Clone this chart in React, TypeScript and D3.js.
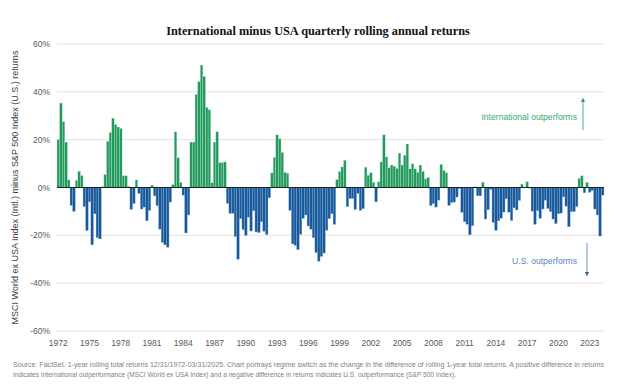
import React from 'react';
import * as d3 from 'd3';

/* ───── data: intl minus US rolling 1y return, quarterly 1972Q4 → 2025Q1 ───── */
const diffs = [
  20, 35.3, 27.5, 19, 3.2, -7.5, -10, 3, 6.8, 5,
  -8, -18, -6, -24, -11, -21, -21.5, 0.4, 5.4, 19.3,
  23, 29, 26.4, 25.3, 24.7, 4.9, 4.9, 0.5, -9.2, -6.7,
  3.2, -2.5, -9, -8.2, -13.9, -9.6, 1, -3.5, -7.6, -17.4,
  -23, -24, -25, -6.1, 1.2, 23.3, 12.5, 2.2, -3.2, -19,
  -11.5, 19, 19, 39, 44.2, 51.2, 46.5, 33.5, 32.5, 2,
  19, 23.3, 10.4, 10.4, 10.7, -6.7, -10.8, -10.8, -20.5, -30,
  -13, -17.6, -20, -12.4, -18.2, -9.7, -18.6, -18.9, -14.3, -18.3,
  -19.7, -4.3, 6.1, 12.6, 22, 20.4, 14.7, 6.4, 6, -9.6,
  -23.6, -24.2, -26, -19.6, -12.9, -11.5, -16.1, -17.4, -21, -27.2,
  -30.8, -28.8, -27.4, -17.9, -13, -11, -15.4, 3.3, 6.7, 8.6,
  11.4, -8, -4.6, -4.6, -9.2, -2.5, -9.6, -8.9, 8.5, 5.1,
  6.2, 2.2, -6, 2.4, 10.7, 22, 12.8, 8.3, 9.4, 8.9,
  8, 14.4, 9.4, 13.5, 18.2, 7.8, 9.9, 7.8, 6.4, 9.4,
  6.8, 3.6, 4.2, -7.5, -6.7, -8.2, -5.3, 9.7, 7.2, 6.2,
  -7.5, -6.3, -6.1, -4, -0.5, -10.4, -14.3, -15.4, -19.8, -16,
  0.4, -3.5, -3.5, 2.2, -13.2, -9.3, -0.8, -14.6, -17.9, -13.9,
  -12.9, -10.3, -4.7, -10.3, -13.8, -8.5, -9.4, -5.4, 1.4, 0.2,
  2.4, -0.3, -9.9, -15.4, -9.7, -12.9, -9, -5.3, -8.8, -10.1,
  -13.2, -15.1, -11, -10.7, -3.9, -7.8, -16.4, -10.1, -10.1, -8,
  3.8, 4.9, -2.2, 2.2, -2, -1.3, -9, -11.5, -20.3, -3.2
];

/* quarter categories, first one is 1972Q4 */
const quarters = diffs.map((_, i) => {
  const q = 3 + i;
  return `${1972 + Math.floor(q / 4)}Q${(q % 4) + 1}`;
});

const yearTicks = ['1972', '1975', '1978', '1981', '1984', '1987', '1990', '1993',
  '1996', '1999', '2002', '2005', '2008', '2011', '2014', '2017', '2020', '2023'];
const pctTicks = [60, 40, 20, 0, -20, -40, -60];

const sourceLines = [
  'Source: FactSet. 1-year rolling total returns 12/31/1972-03/31/2025. Chart portrays regime switch as the change in the difference of rolling 1-year total returns. A positive difference in returns',
  'indicates International  outperformance (MSCI World ex USA Index) and a negative difference in returns indicates U.S. outperformance (S&P 500 Index).'
];

/* style */
const W = 631, H = 384;
const M = { l: 57, r: 604, t: 44, b: 331 };
const GREEN = '#22995d';
const BLUE = '#17599a';
const AXIS = '#595959';
const FONT = '"Liberation Sans", Arial, sans-serif';

export default function App() {
  const x = d3.scaleBand<string>().domain(quarters).range([M.l, M.r]).padding(0);
  const y = d3.scaleLinear().domain([-60, 60]).range([M.b, M.t]);
  const bw = x.bandwidth();

  return (
    <svg width={W} height={H} style={{ position: 'absolute', left: 0, top: 0, background: '#fff' }}>
      {/* title */}
      <text x={318} y={35} textAnchor="middle" fontFamily='"Liberation Serif", Georgia, serif'
        fontWeight="bold" fontSize={12.3} fill="#111">
        International minus USA quarterly rolling annual returns
      </text>

      {/* grid + y labels */}
      {pctTicks.map(t => (
        <g key={t}>
          {t !== 0 && <line x1={M.l} x2={M.r} y1={y(t)} y2={y(t)} stroke="#e2e2e2" strokeWidth={1} />}
          <text x={50} y={y(t) + 3} textAnchor="end" fontFamily={FONT} fontSize={8.5} fill={AXIS}>
            {t}%
          </text>
        </g>
      ))}

      {/* bars */}
      {diffs.map((v, i) => {
        const q = quarters[i];
        const y0 = y(Math.max(0, v)), y1 = y(Math.min(0, v));
        return (
          <rect key={q} x={x(q)} y={y0} width={bw} height={Math.max(0.3, y1 - y0)}
            fill={v >= 0 ? GREEN : BLUE}
            stroke={v >= 0 ? '#bfe6cf' : '#8fb1d6'} strokeWidth={0.35} />
        );
      })}

      {/* zero line */}
      <line x1={M.l} x2={M.r} y1={y(0)} y2={y(0)} stroke="#222" strokeWidth={1.2} />

      {/* x labels */}
      {yearTicks.map(t => (
        <text key={t} x={(x(`${t}Q4`) ?? 0) + bw / 2} y={346} textAnchor="middle"
          fontFamily={FONT} fontSize={8.5} fill={AXIS}>
          {t}
        </text>
      ))}

      {/* y axis title */}
      <text transform={`translate(18,${y(0)}) rotate(-90)`} textAnchor="middle"
        fontFamily={FONT} fontSize={9} fill="#404040">
        MSCI World ex USA Index (Intl.) minus S&amp;P 500 Index (U.S.) returns
      </text>

      {/* annotations */}
      <defs>
        <marker id="ag" viewBox="0 0 10 10" refX="5" refY="5" markerWidth="5" markerHeight="5" orient="auto">
          <path d="M0,0L10,5L0,10z" fill="#2e9e64" />
        </marker>
        <marker id="ab" viewBox="0 0 10 10" refX="5" refY="5" markerWidth="5" markerHeight="5" orient="auto">
          <path d="M0,0L10,5L0,10z" fill="#3366a0" />
        </marker>
      </defs>
      <text x={577} y={120} textAnchor="end" fontFamily={FONT} fontSize={8.6} fill="#3aa872">
        International outperforms
      </text>
      <line x1={583} x2={583} y1={130} y2={100} stroke="#3aa872" strokeWidth={0.9} markerEnd="url(#ag)" />
      <text x={577} y={264} textAnchor="end" fontFamily={FONT} fontSize={8.6} fill="#5a86bb">
        U.S. outperforms
      </text>
      <line x1={587} x2={587} y1={243} y2={274} stroke="#5a86bb" strokeWidth={0.9} markerEnd="url(#ab)" />

      {/* source */}
      {sourceLines.map((s, i) => (
        <text key={i} x={13} y={367 + i * 10} fontFamily={FONT} fontSize={6.4} fill="#7f7f7f"
          textLength={i === 0 ? 591 : 443} lengthAdjust="spacingAndGlyphs">
          {s}
        </text>
      ))}
    </svg>
  );
}
